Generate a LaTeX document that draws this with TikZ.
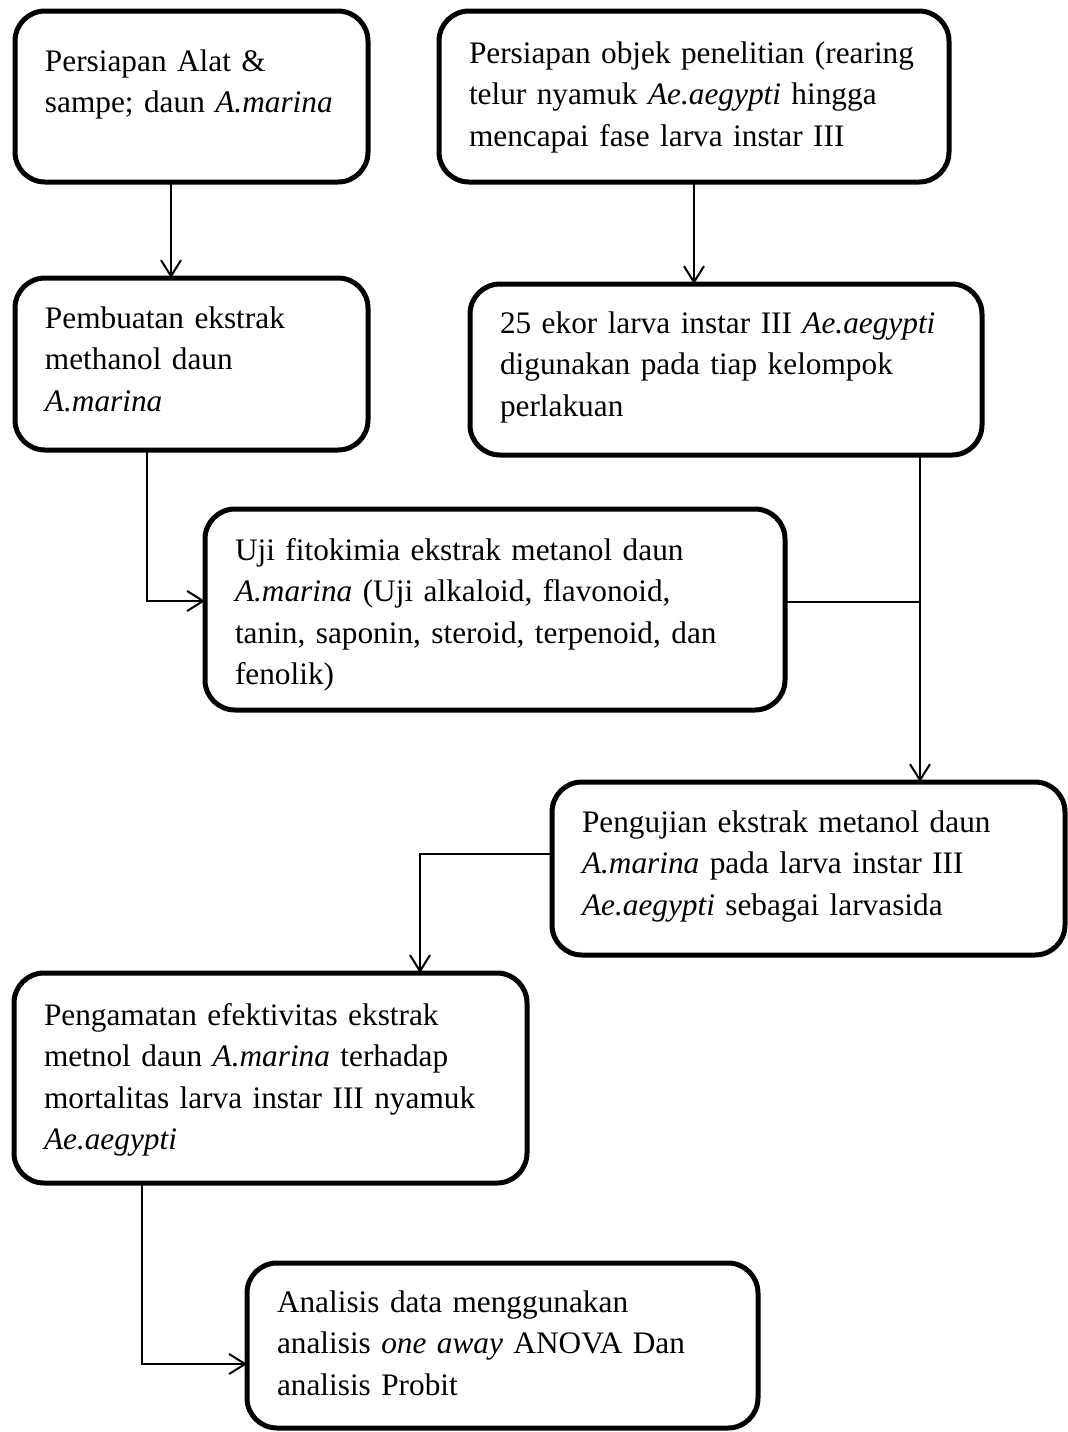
\documentclass[tikz,border=0pt]{standalone}
\usepackage{fontspec}
\setmainfont{Liberation Serif}
\usetikzlibrary{arrows.meta}

\newcommand{\boxfont}{\fontsize{15.65pt}{20.75pt}\selectfont}
\tikzset{
  procbox/.style n args={3}{draw, line width=2.5pt, rounded corners=15pt,
    anchor=north west, outer sep=0pt, inner xsep=15pt, inner ysep=0pt,
    align=left, font=\boxfont, text width=#1, text height=#2, text depth=#3},
}

\begin{document}
\begin{tikzpicture}[x=0.5pt, y=-0.5pt, line width=1pt,
    >={Straight Barb[length=8pt,width=10pt]}]
  \useasboundingbox (0,0) rectangle (1068,1432);

  \node[procbox={146.5pt}{30pt}{55.5pt}] (alat) at (15,11)
    {Persiapan Alat \&\\ sampe; daun \textit{A.marina}};
  \node[procbox={225pt}{26pt}{59.5pt}] (objek) at (439,11)
    {Persiapan objek penelitian (rearing\\ telur nyamuk \textit{Ae.aegypti} hingga\\ mencapai fase larva instar III};
  \node[procbox={146.5pt}{25pt}{61pt}] (ekstrak) at (15,278)
    {Pembuatan ekstrak\\ methanol daun\\ \textit{A.marina}};
  \node[procbox={226pt}{24.5pt}{61pt}] (larva) at (470,284)
    {25 ekor larva instar III \textit{Ae.aegypti}\\ digunakan pada tiap kelompok\\ perlakuan};
  \node[procbox={260pt}{25.5pt}{75pt}] (uji) at (205,509)
    {Uji fitokimia ekstrak metanol daun\\ \textit{A.marina} (Uji alkaloid, flavonoid,\\ tanin, saponin, steroid, terpenoid, dan\\ fenolik)};
  \node[procbox={226.5pt}{25pt}{61.5pt}] (pengujian) at (552,782)
    {Pengujian ekstrak metanol daun\\ \textit{A.marina} pada larva instar III\\ \textit{Ae.aegypti} sebagai larvasida};
  \node[procbox={226.5pt}{26pt}{79pt}] (amat) at (14,973)
    {Pengamatan efektivitas ekstrak\\ metnol daun \textit{A.marina} terhadap\\ mortalitas larva instar III nyamuk\\ \textit{Ae.aegypti}};
  \node[procbox={225.5pt}{24.5pt}{58pt}] (analisis) at (247,1263)
    {Analisis data menggunakan\\ analisis \textit{one away} ANOVA Dan\\ analisis Probit};

  \draw[->] ([xshift=-10.25pt]alat.south) -- ([xshift=-10.25pt]ekstrak.north);
  \draw[->] (objek.south) -- (objek.south |- larva.north);
  \draw[->] ([xshift=-22.25pt]ekstrak.south) |- ([yshift=4.25pt]uji.west);
  \coordinate (simpang) at (920,602);
  \draw (larva.south -| simpang) -- (simpang);
  \draw (uji.east |- simpang) -- (simpang);
  \draw[->] (simpang) -- (simpang |- pengujian.north);
  \draw[->] ([yshift=7.25pt]pengujian.west) -| ([xshift=74.75pt]amat.north);
  \draw[->] ([xshift=-64.25pt]amat.south) |- ([yshift=-9.25pt]analisis.west);
\end{tikzpicture}
\end{document}
